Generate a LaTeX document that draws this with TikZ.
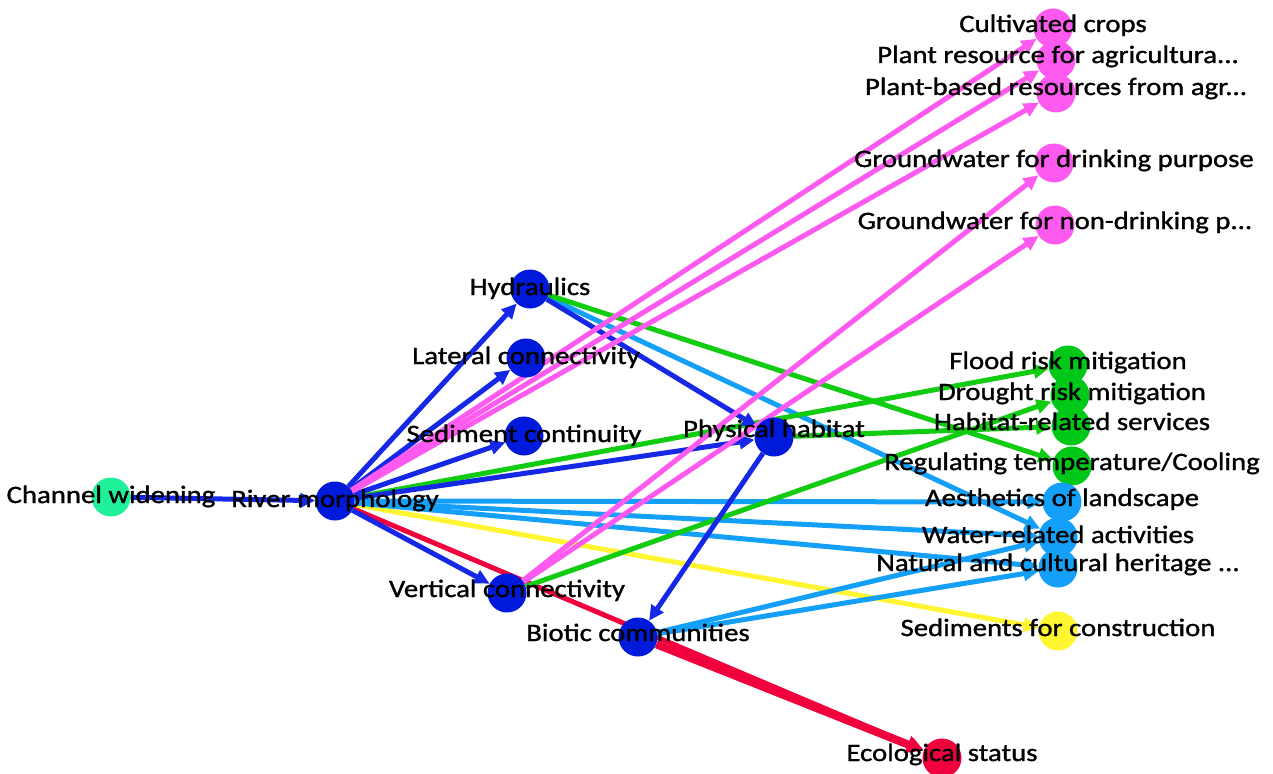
\documentclass[tikz,border=0pt]{standalone}
\usepackage{fontspec}
\setmainfont[FakeStretch=1.15,FakeBold=1.2]{Carlito}
\usetikzlibrary{arrows.meta}
\pgfdeclarelayer{edges}
\pgfdeclarelayer{paper}
\pgfsetlayers{paper,edges,main}

\definecolor{vblue}{HTML}{001ADC}
\definecolor{eblue}{HTML}{1428E6}
\definecolor{vpink}{HTML}{FF5AF0}
\definecolor{vgreen}{HTML}{00C818}
\definecolor{egreen}{HTML}{12CC12}
\definecolor{vsky}{HTML}{14A0F8}
\definecolor{vyellow}{HTML}{FFF530}
\definecolor{vred}{HTML}{F0003C}
\definecolor{vteal}{HTML}{20F09A}

\begin{document}
\begin{tikzpicture}[x=1pt,y=-1pt,
  vtx/.style={circle,minimum size=39pt,inner sep=0pt,fill=#1},
  lbl/.style={anchor=base,inner sep=0pt,font=\fontsize{25}{25}\selectfont},
  edge/.style={line width=5pt,draw=#1,-{Triangle[length=15pt,width=14pt]}},
  thickedge/.style={line width=8pt,draw=#1,-{Triangle[length=17pt,width=17pt]}},
]
\begin{pgfonlayer}{paper}
\fill[white] (0,0) rectangle (1273,773);
\end{pgfonlayer}
\useasboundingbox (0,0) rectangle (1273,773);

% vertices
\node[vtx=vteal]   (cw)   at (111,497) {};
\node[vtx=vblue]   (rm)   at (335,501) {};
\node[vtx=vblue]   (hyd)  at (530,289) {};
\node[vtx=vblue]   (lat)  at (526,358) {};
\node[vtx=vblue]   (sed)  at (524,436) {};
\node[vtx=vblue]   (ph)   at (774,437) {};
\node[vtx=vblue]   (vc)   at (507,593) {};
\node[vtx=vblue]   (bio)  at (638,637) {};
\node[vtx=vpink]   (cult) at (1053,28) {};
\node[vtx=vpink]   (pra)  at (1056,60) {};
\node[vtx=vpink]   (pba)  at (1056,93) {};
\node[vtx=vpink]   (gwd)  at (1054,163) {};
\node[vtx=vpink]   (gwn)  at (1055,225) {};
\node[vtx=vgreen]  (fld)  at (1068,365) {};
\node[vtx=vgreen]  (drt)  at (1070,395) {};
\node[vtx=vgreen]  (hab)  at (1071,426) {};
\node[vtx=vgreen]  (reg)  at (1072,466) {};
\node[vtx=vsky]    (aes)  at (1062,502) {};
\node[vtx=vsky]    (wra)  at (1058,537) {};
\node[vtx=vsky]    (nch)  at (1058,568) {};
\node[vtx=vyellow] (scn)  at (1058,631) {};
\node[vtx=vred]    (eco)  at (942,758) {};

% connectors
\begin{pgfonlayer}{edges}
\draw[edge=vred] (rm) -- (eco);
\draw[thickedge=vred] (bio) -- (eco);
\draw[edge=vyellow] (rm) -- (scn);
\draw[edge=vsky] (rm) -- (aes);
\draw[edge=vsky] (rm) -- (wra);
\draw[edge=vsky] (rm) -- (nch);
\draw[edge=vsky] (hyd) -- (wra);
\draw[edge=vsky] (bio) -- (wra);
\draw[edge=vsky] (bio) -- (nch);
\draw[edge=egreen] (rm) -- (fld);
\draw[edge=egreen] (ph) -- (hab);
\draw[edge=egreen] (hyd) -- (reg);
\draw[edge=egreen] (vc) -- (drt);
\draw[edge=eblue] (cw) -- (rm);
\draw[edge=eblue] (rm) -- (hyd);
\draw[edge=eblue] (rm) -- (lat);
\draw[edge=eblue] (rm) -- (sed);
\draw[edge=eblue] (rm) -- (ph);
\draw[edge=eblue] (rm) -- (vc);
\draw[edge=eblue] (hyd) -- (ph);
\draw[edge=eblue] (ph) -- (bio);
\draw[edge=vpink] (rm) -- (cult);
\draw[edge=vpink] (rm) -- (pra);
\draw[edge=vpink] (rm) -- (pba);
\draw[edge=vpink] (vc) -- (gwd);
\draw[edge=vpink] (vc) -- (gwn);
\end{pgfonlayer}

% labels
\node[lbl] (cwL)   at (111,503) {Channel widening};
\node[lbl] (rmL)   at (335,507) {River morphology};
\node[lbl] (hydL)  at (530,295) {Hydraulics};
\node[lbl] (latL)  at (526,364) {Lateral connectivity};
\node[lbl] (sedL)  at (524,442) {Sediment continuity};
\node[lbl] (phL)   at (774,437) {Physical habitat};
\node[lbl] (vcL)   at (507,597) {Vertical connectivity};
\node[lbl] (bioL)  at (638,641) {Biotic communities};
\node[lbl] (cultL) at (1053,32) {Cultivated crops};
\node[lbl] (praL)  at (1058,63) {Plant resource for agricultura...};
\node[lbl] (pbaL)  at (1056,95) {Plant-based resources from agr...};
\node[lbl] (gwdL)  at (1054,167) {Groundwater for drinking purpose};
\node[lbl] (gwnL)  at (1055,229) {Groundwater for non-drinking p...};
\node[lbl] (fldL)  at (1068,369) {Flood risk mitigation};
\node[lbl] (drtL)  at (1072,400) {Drought risk mitigation};
\node[lbl] (habL)  at (1072,430) {Habitat-related services};
\node[lbl] (regL)  at (1072,470) {Regulating temperature/Cooling};
\node[lbl] (aesL)  at (1062,506) {Aesthetics of landscape};
\node[lbl] (wraL)  at (1058,543) {Water-related activities};
\node[lbl] (nchL)  at (1058,571) {Natural and cultural heritage ...};
\node[lbl] (scnL)  at (1058,636) {Sediments for construction};
\node[lbl] (ecoL)  at (942,761) {Ecological status};
\end{tikzpicture}
\end{document}
